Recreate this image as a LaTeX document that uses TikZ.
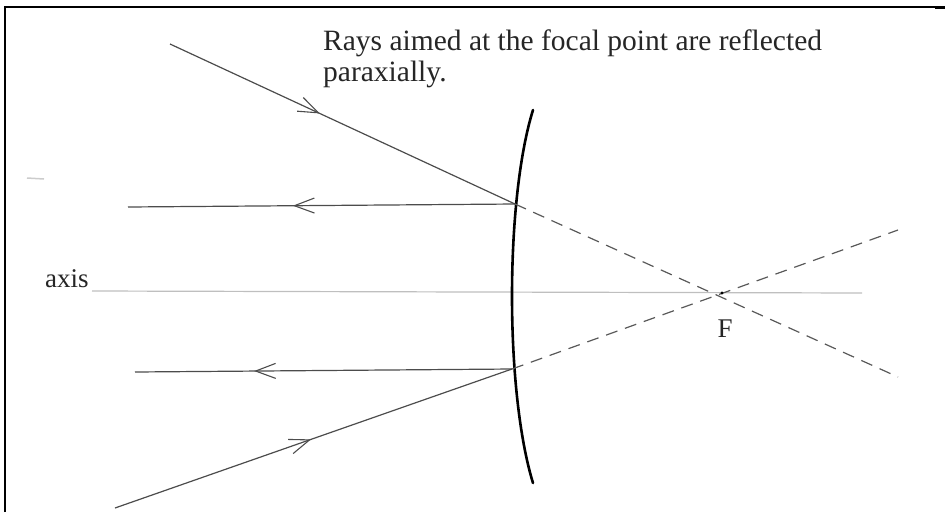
\documentclass[tikz,border=0pt]{standalone}
\usepackage{fontspec}
\setmainfont{Liberation Serif}
\usetikzlibrary{decorations.markings}
\tikzset{
  ray/.style={draw=black!70, line width=1.2pt},
  dray/.style={draw=black!65, line width=1.2pt, dash pattern=on 12pt off 8pt},
  chev/.style={decoration={markings, mark=at position #1 with {\draw[black!70, line width=1.1pt, solid] (-20pt,7.5pt) -- (0pt,0pt) -- (-20pt,-7.5pt);}}, postaction={decorate}},
  lbl/.style={text=black!85, inner sep=0pt},
}
\begin{document}
\begin{tikzpicture}[x=1pt,y=-1pt]
\useasboundingbox (0,0) rectangle (945,512);
% frame
\draw[line width=2pt] (5,512) -- (5,7) -- (945,7);
\draw[line width=3.5pt] (935,7.5) -- (945,7.5);
% points
\coordinate (A1) at (170,44);
\coordinate (M1) at (515,204);
\coordinate (E1) at (898,377);
\coordinate (R1) at (128,207);
\coordinate (A2) at (115,508);
\coordinate (M2) at (512,369);
\coordinate (E2) at (898,230);
\coordinate (R2) at (135,372);
\coordinate (F) at (722,293);
\coordinate (ax1) at (92,291);
\coordinate (ax2) at (862,293);
% axis
\draw[black!25, line width=1.2pt] (ax1) -- (ax2);
\draw[black!20, line width=1.5pt] (27,178) -- (44,179);
% mirror
\draw[line width=2.6pt, line cap=round] (533,110) .. controls (505,200) and (505,392) .. (533,483);
% rays
\draw[ray, chev=0.43] (A1) -- (M1);
\draw[dray] (M1) -- (E1);
\draw[ray, chev=0.57] (M1) -- (R1);
\draw[ray, chev=0.49] (A2) -- (M2);
\draw[dray] (M2) -- (E2);
\draw[ray, chev=0.68] (M2) -- (R2);
\fill (F) circle (1.6pt);
% labels
\node[lbl, anchor=base west, font=\fontsize{29.5}{32}\selectfont] (t1) at (323,50) {Rays aimed at the focal point are reflected};
\node[lbl, anchor=base west, font=\fontsize{29.5}{32}\selectfont] (t2) at (323,81) {paraxially.};
\node[lbl, anchor=base west, font=\fontsize{27}{30}\selectfont] (axl) at (45,287) {axis};
\node[lbl, anchor=base, font=\fontsize{27}{30}\selectfont] (Fl) at (725,337) {F};
\end{tikzpicture}
\end{document}
